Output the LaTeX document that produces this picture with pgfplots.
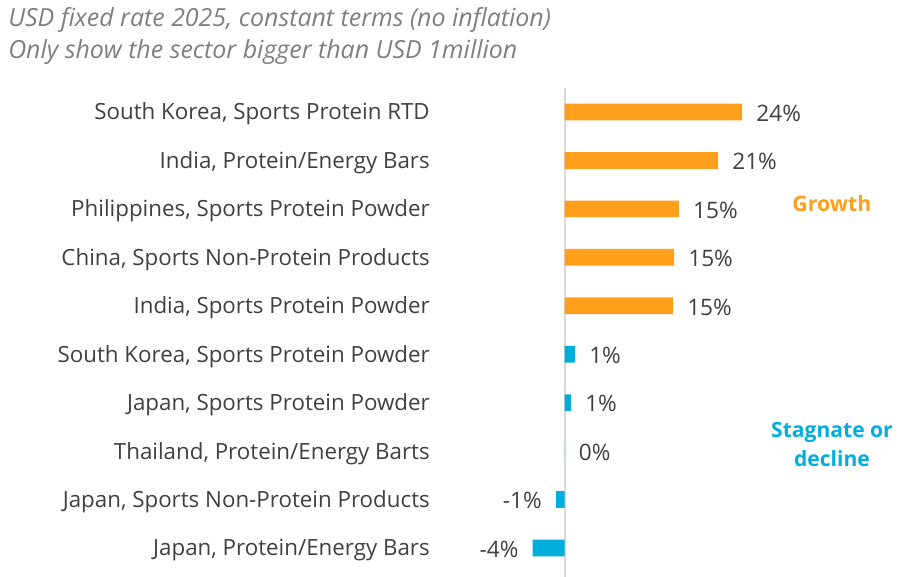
\documentclass[border=0pt]{standalone}
\usepackage{pgfplots}
\pgfplotsset{compat=1.18}
\usepackage{fontspec}
\setmainfont{Open Sans}
\definecolor{growth}{HTML}{FF9F1C}
\definecolor{stag}{HTML}{00AEDB}
\definecolor{labelgray}{HTML}{404040}
\definecolor{titlegray}{HTML}{7F7F7F}
\definecolor{axisgray}{HTML}{D9D9D9}

\begin{document}
\begin{tikzpicture}
\useasboundingbox (0,0) rectangle (678pt,432.75pt);

% two-line italic heading
\node[anchor=base west, inner sep=0pt, text=titlegray,
      font=\fontsize{18.7}{22}\selectfont\itshape] at (6pt,412.5pt)
      {USD fixed rate 2025, constant terms (no inflation)};
\node[anchor=base west, inner sep=0pt, text=titlegray,
      font=\fontsize{18.7}{22}\selectfont\itshape] at (6pt,389pt)
      {Only show the sector bigger than USD 1million};

\begin{axis}[
  at={(423.4pt,348.75pt)}, anchor=origin,
  x=5.5725pt, y=36.33pt, y dir=reverse,
  xmin=-18.1, xmax=28, ymin=-0.5, ymax=9.6,
  xbar, bar width=12.5pt, bar shift=0pt,
  axis line style={draw=none},
  xtick=\empty,
  ytick={0,...,9},
  yticklabels={
    {South Korea, Sports Protein RTD},
    {India, Protein/Energy Bars},
    {Philippines, Sports Protein Powder},
    {China, Sports Non-Protein Products},
    {India, Sports Protein Powder},
    {South Korea, Sports Protein Powder},
    {Japan, Sports Protein Powder},
    {Thailand, Protein/Energy Barts},
    {Japan, Sports Non-Protein Products},
    {Japan, Protein/Energy Bars}},
  major tick length=0pt,
  tick style={draw=none},
  yticklabel style={anchor=base east, inner sep=0pt, yshift=-6pt,
    text=labelgray, font=\fontsize{16.75}{20}\selectfont},
  extra x ticks={0},
  extra x tick labels={},
  extra x tick style={grid=major,
    major grid style={draw=axisgray, line width=1.5pt}},
  clip=false,
  point meta=x,
  nodes near coords={\pgfmathprintnumber[fixed,precision=0,assume math mode=true]{\pgfplotspointmeta}\%},
]
% growth segments
\addplot[fill=growth, draw=none,
  nodes near coords style={anchor=base west, inner sep=0pt, xshift=10.5pt,
    yshift=-7pt, text=labelgray, font=\fontsize{17}{20}\selectfont}]
  table[x=v, y=i] {
    v      i
    23.9   0
    20.66  1
    15.4   2
    14.74  3
    14.6   4
  };
% flat or small gains
\addplot[fill=stag, draw=none,
  nodes near coords style={anchor=base west, inner sep=0pt, xshift=10.5pt,
    yshift=-7pt, text=labelgray, font=\fontsize{17}{20}\selectfont}]
  table[x=v, y=i] {
    v      i
    1.41   5
    0.87   6
    0      7
  };
% declines
\addplot[fill=stag, draw=none,
  nodes near coords style={anchor=base east, inner sep=0pt, xshift=-10.5pt,
    yshift=-7pt, text=labelgray, font=\fontsize{17}{20}\selectfont}]
  table[x=v, y=i] {
    v      i
    -1.14  8
    -4.28  9
  };
\end{axis}

% group annotations
\node[anchor=base, inner sep=0pt, text=growth,
      font=\fontsize{16}{19}\selectfont\bfseries] at (624pt,274pt) {Growth};
\node[anchor=base, inner sep=0pt, text=stag,
      font=\fontsize{15.8}{19}\selectfont\bfseries] at (624pt,104.25pt) {Stagnate or};
\node[anchor=base, inner sep=0pt, text=stag,
      font=\fontsize{15.8}{19}\selectfont\bfseries] at (624pt,82.75pt) {decline};
\end{tikzpicture}
\end{document}
